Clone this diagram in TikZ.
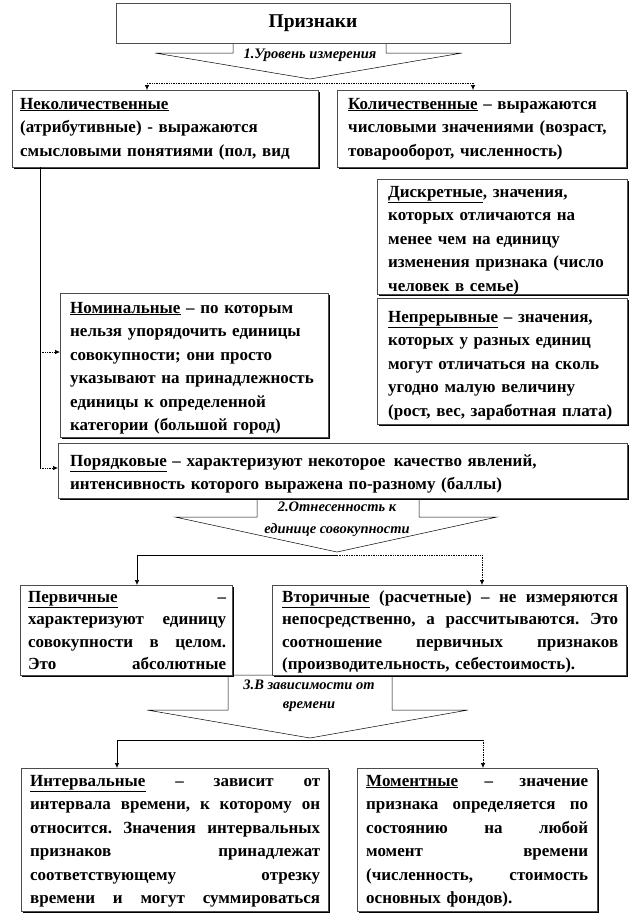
\documentclass[tikz,border=0pt]{standalone}
\usepackage{fontspec}
\setmainfont{Liberation Serif}
\usetikzlibrary{arrows.meta,shadows,calc}
\newcommand\jline[1]{\leavevmode\hbox to \hsize{#1}}
\newcommand\jsp{\hskip 0.2em plus 1fill\relax}
\frenchspacing
\tikzset{
 box/.style={draw=black!70, line width=0.4pt, fill=white,
   drop shadow={shadow xshift=1.3pt, shadow yshift=-1.3pt, fill=black, opacity=1},
   anchor=north west, inner sep=0pt},
 txt/.style={anchor=base west, inner sep=0pt, font=\bfseries\fontsize{17}{23.5}\selectfont, align=left},
 lab/.style={font=\bfseries\itshape\fontsize{14.5}{21}\selectfont, inner sep=0pt, align=center},
 callout/.style={draw=black, line width=0.5pt, fill=white, line join=miter},
 dotc/.style={densely dotted, line width=0.7pt},
 solc/.style={line width=0.6pt},
 tip/.style={-{Latex[length=5pt,width=4.5pt]}},
}
\begin{document}
\begin{tikzpicture}[x=1pt,y=-1pt]
\useasboundingbox (0,0) rectangle (629,914);
\fill[white] (0,0) rectangle (629,914);

% callouts (block arrows)
\draw[callout] (233,43) -- (386,43) -- (386,53) -- (462,53) -- (310,79) -- (155,53) -- (233,53) -- cycle;
\node[lab] (l1) at (310,55) {1.Уровень измерения};

\draw[callout] (257,498) -- (419,498) -- (419,517) -- (497,517) -- (337,552) -- (175,517) -- (257,517) -- cycle;
\node[lab, font=\bfseries\itshape\fontsize{14.5}{22}\selectfont] (l2) at (337,519) {2.Отнесенность к\\единице совокупности};

\draw[callout] (228,675) -- (392,675) -- (392,710) -- (468,710) -- (310,738) -- (147,710) -- (228,710) -- cycle;
\node[lab, font=\bfseries\itshape\fontsize{14.5}{19}\selectfont] (l3) at (309,696) {3.В зависимости от\\времени};

% boxes
\node[box, minimum width=394pt, minimum height=40pt, font=\bfseries\fontsize{19.5}{22}\selectfont, anchor=center] (top) at (313,23) {Признаки};

\node[box, minimum width=306pt, minimum height=77pt] (nekol) at (12,90) {};
\node[txt, text width=300pt] (nekolT) at (20,109) {\underline{Неколичественные}\\(атрибутивные) - выражаются\\смысловыми понятиями (пол, вид};

\node[box, minimum width=289pt, minimum height=77pt] (kol) at (337,90) {};
\node[txt, text width=285pt] (kolT) at (348,109) {\underline{Количественные} – выражаются\\числовыми значениями (возраст,\\товарооборот, численность)};

\node[box, minimum width=250pt, minimum height=115pt] (disc) at (377,179) {};
\node[txt, text width=245pt] (discT) at (388,197) {\underline{Дискретные}, значения,\\которых отличаются на\\менее чем на единицу\\изменения признака (число\\человек в семье)};

\node[box, minimum width=250pt, minimum height=126pt] (nepr) at (377,298) {};
\node[txt, text width=245pt] (neprT) at (388,322) {\underline{Непрерывные} – значения,\\которых у разных единиц\\могут отличаться на сколь\\угодно малую величину\\(рост, вес, заработная плата)};

\node[box, minimum width=268pt, minimum height=144pt] (nom) at (60,293) {};
\node[txt, text width=265pt] (nomT) at (70,313) {\underline{Номинальные} – по которым\\нельзя упорядочить единицы\\совокупности; они просто\\указывают на принадлежность\\единицы к определенной\\категории (большой город)};

\node[box, minimum width=569pt, minimum height=55pt] (por) at (58,443) {};
\node[txt, text width=550pt] (porT) at (70,466) {\underline{Порядковые} – характеризуют некоторое\, качество явлений,\\интенсивность которого выражена по-разному (баллы)};

\node[box, minimum width=212pt, minimum height=90pt] (perv) at (20,585) {};
\node[txt, text width=198pt, font=\bfseries\fontsize{17}{22.5}\selectfont] (pervT) at (28,602) {\jline{\underline{Первичные}\hfill –}\\\jline{характеризуют\jsp единицу}\\\jline{совокупности\jsp в\jsp целом.}\\\jline{Это\jsp абсолютные}};

\node[box, minimum width=354pt, minimum height=90pt] (vtor) at (272,585) {};
\node[txt, text width=336pt, font=\bfseries\fontsize{17}{22.5}\selectfont] (vtorT) at (282,602) {\jline{\underline{Вторичные}\jsp(расчетные)\jsp–\jsp не\jsp измеряются}\\\jline{непосредственно,\jsp а\jsp рассчитываются.\jsp Это}\\\jline{соотношение\jsp первичных\jsp признаков}\\(производительность, себестоимость).};

\node[box, minimum width=307pt, minimum height=143pt] (int) at (21,768) {};
\node[txt, text width=290pt] (intT) at (30,786) {\jline{\underline{Интервальные}\jsp–\jsp зависит\jsp от}\\\jline{интервала\jsp времени,\jsp к\jsp которому\jsp он}\\\jline{относится.\jsp Значения\jsp интервальных}\\\jline{признаков\jsp принадлежат}\\\jline{соответствующему\jsp отрезку}\\\jline{времени\jsp и\jsp могут\jsp суммироваться}};

\node[box, minimum width=240pt, minimum height=143pt] (mom) at (357,768) {};
\node[txt, text width=222pt] (momT) at (366,786) {\jline{\underline{Моментные}\jsp–\jsp значение}\\\jline{признака\jsp определяется\jsp по}\\\jline{состоянию\jsp на\jsp любой}\\\jline{момент\jsp времени}\\\jline{(численность,\jsp стоимость}\\основных фондов).};

% connectors level 1
\coordinate (s1) at (310,83);
\coordinate (s1L) at (147,83);
\coordinate (s1R) at (473,83);
\draw[dotc] (s1L) -- (s1R);
\draw[dotc,tip] (s1L) -- (s1L |- nekol.north);
\draw[dotc,tip] (s1R) -- (s1R |- kol.north);

\coordinate (vtop) at (40,167);
\coordinate (vn) at (40,352);
\coordinate (vp) at (40,468);
\draw[solc] (vtop) -- (vp);
\draw[dotc,tip] (vn) -- (vn -| nom.west);
\draw[dotc,tip] (vp) -- (vp -| por.west);

% connectors level 2
\coordinate (s2) at (337,555);
\coordinate (s2L) at (137,555);
\coordinate (s2R) at (482,555);
\draw[solc] (s2) -- (s2L);
\draw[solc,tip] (s2L) -- (s2L |- perv.north);
\draw[dotc] (s2) -- (s2R);
\draw[dotc,tip] (s2R) -- (s2R |- vtor.north);

% connectors level 3
\coordinate (s3) at (310,740);
\coordinate (s3L) at (117,740);
\coordinate (s3R) at (483,740);
\draw[solc] (s3L) -- (s3R);
\draw[solc,tip] (s3L) -- (s3L |- int.north);
\draw[dotc,tip] (s3R) -- (s3R |- mom.north);
\end{tikzpicture}
\end{document}
